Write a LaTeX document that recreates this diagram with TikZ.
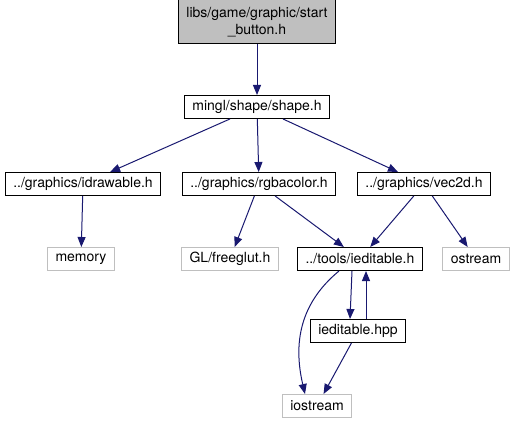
\documentclass[tikz,border=0pt]{standalone}
\usepackage{fontspec}
\setmainfont{TeX Gyre Heros}
\usepackage{xcolor}
\usetikzlibrary{arrows.meta, positioning, calc}
\definecolor{edgeblue}{RGB}{25,25,112}
\definecolor{sysgray}{RGB}{191,191,191}
\begin{document}
\begin{tikzpicture}[x=1pt, y=-1pt,
    every node/.style={rectangle, minimum height=23pt, inner xsep=8pt, inner ysep=0pt,
        font=\fontsize{14}{17}\selectfont, line width=1pt},
    file/.style={draw=black},
    sys/.style={draw=sysgray},
    dep/.style={draw=edgeblue, line width=1pt, -{Triangle[length=10pt, width=8pt]}}]
    \useasboundingbox (0,0) rectangle (521,425);
    % files
    \node[file, fill=sysgray, minimum height=44pt, align=center] (start) at (257,22) {libs/game/graphic/start\\\_button.h};
    \node[file] (shape) at (257,107) {mingl/shape/shape.h};
    \node[file] (idraw) at (83,184) {../graphics/idrawable.h};
    \node[file] (rgba) at (259,184) {../graphics/rgbacolor.h};
    \node[file] (vec) at (424,184) {../graphics/vec2d.h};
    \node[sys] (memory) at (81,259) {memory};
    \node[sys] (glut) at (230,259) {GL/freeglut.h};
    \node[file] (iedh) at (360,259) {../tools/ieditable.h};
    \node[sys] (ostream) at (476,259) {ostream};
    \node[file] (iedhpp) at (358,331) {ieditable.hpp};
    \node[sys] (iostream) at (317,406) {iostream};
    % includes
    \draw[dep] (start) -- (shape);
    \draw[dep] (shape) -- (idraw);
    \draw[dep] (shape) -- (rgba);
    \draw[dep] (shape) -- (vec);
    \draw[dep] (idraw) -- (memory);
    \draw[dep] (rgba) -- (glut);
    \draw[dep] (rgba) -- (iedh);
    \draw[dep] (vec) -- (iedh);
    \draw[dep] (vec) -- (ostream);
    \draw[dep] ([xshift=-21pt]iedh.south) .. controls (310,295) and (290,330) .. ([xshift=-12pt]iostream.north);
    \draw[dep] ([xshift=-8pt]iedh.south) -- ([xshift=-8pt]iedhpp.north);
    \draw[dep] ([xshift=8pt]iedhpp.north) -- ([xshift=6pt]iedh.south);
    \draw[dep] (iedhpp) -- (iostream);
\end{tikzpicture}
\end{document}
